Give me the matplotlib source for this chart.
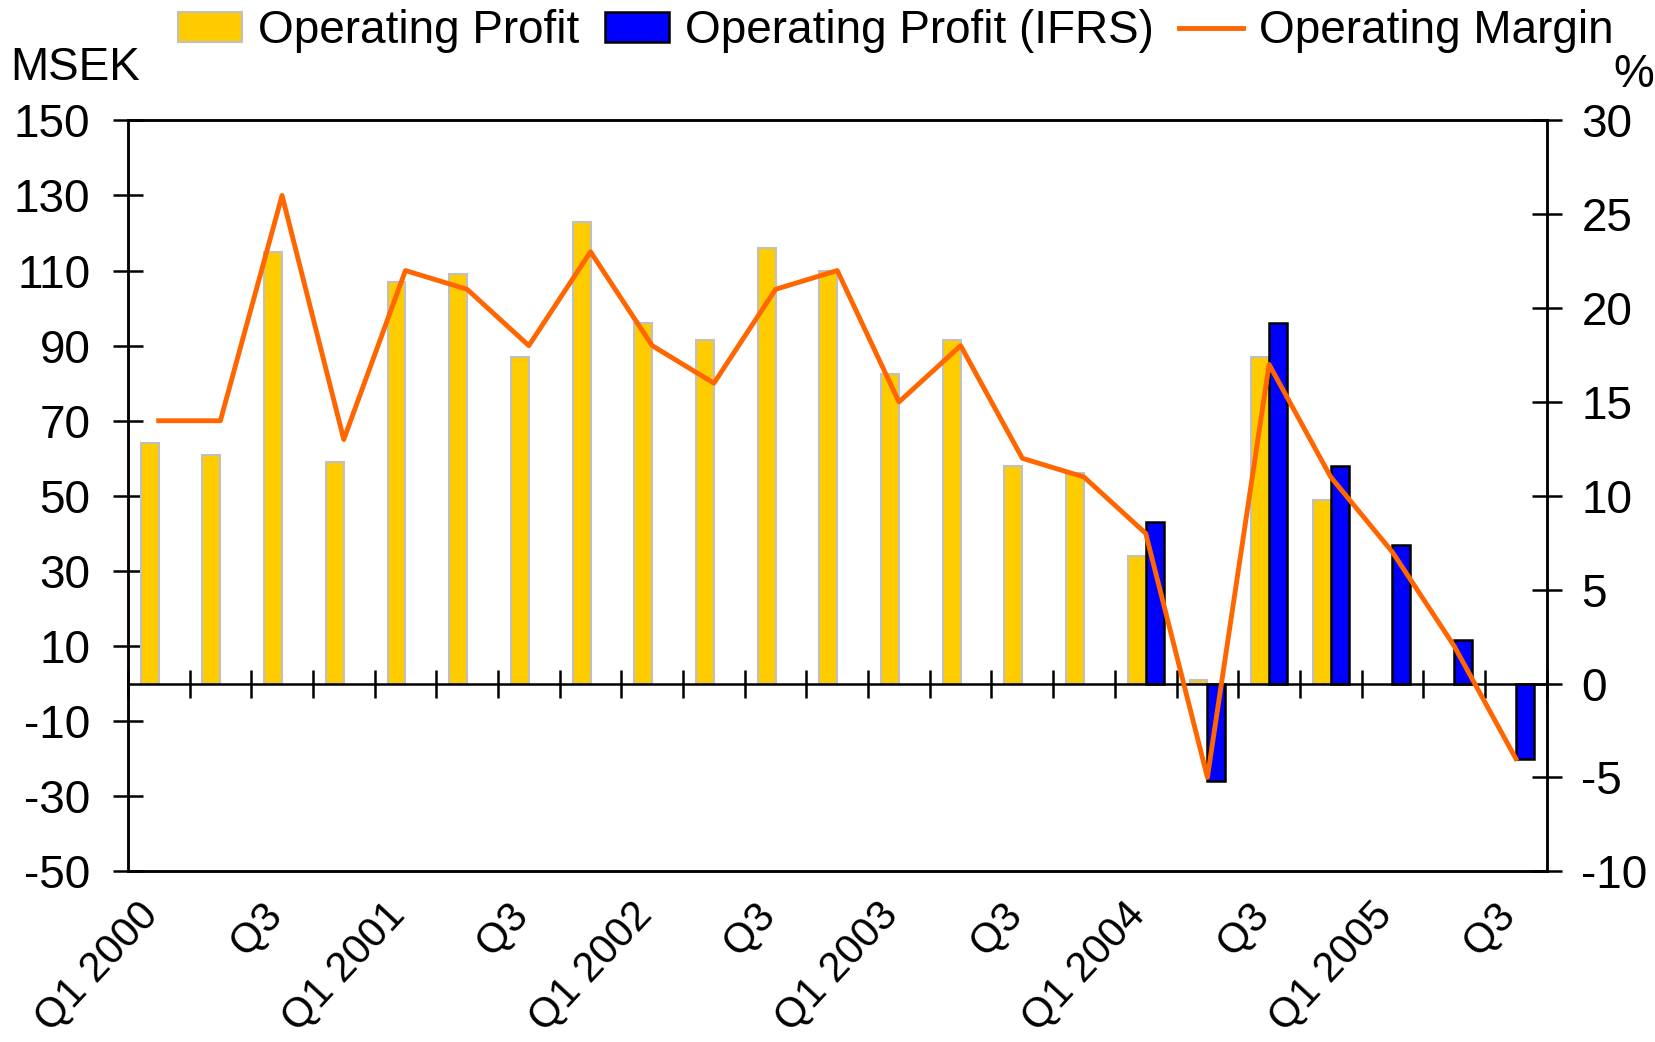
import numpy as np
import matplotlib
matplotlib.use("Agg")
import matplotlib.pyplot as plt
import matplotlib.transforms as mtransforms

plt.rcParams['font.family'] = ['Liberation Sans', 'DejaVu Sans']
plt.rcParams['axes.unicode_minus'] = False

quarters = ['Q1 2000', 'Q2', 'Q3', 'Q4', 'Q1 2001', 'Q2', 'Q3', 'Q4',
            'Q1 2002', 'Q2', 'Q3', 'Q4', 'Q1 2003', 'Q2', 'Q3', 'Q4',
            'Q1 2004', 'Q2', 'Q3', 'Q4', 'Q1 2005', 'Q2', 'Q3']
profit = [64, 61, 115, 59, 107, 109, 87, 123, 96, 91.5, 116, 110,
          82.5, 91.5, 58, 56, 34, 1, 87, 49, np.nan, np.nan, np.nan]
profit_ifrs = [np.nan] * 16 + [43, -26, 96, 58, 37, 11.5, -20]
margin = [14, 14, 26, 13, 22, 21, 18, 23, 18, 16, 21, 22,
          15, 18, 12, 11, 8, -5, 17, 11, 7, 2, -4]

left_ticks = [-50, -30, -10, 10, 30, 50, 70, 90, 110, 130, 150]
right_ticks = [-10, -5, 0, 5, 10, 15, 20, 25, 30]

fig = plt.figure(figsize=(16.56, 10.42), dpi=100)
ax = fig.add_axes([0.0772, 0.1638, 0.8568, 0.7207])
x = np.arange(len(quarters))
w = 0.29

b1 = ax.bar(x - w / 2, profit, width=w, color='#FFCC00', edgecolor='#C0C0C0',
            linewidth=1.5, label='Operating Profit', zorder=2)
b2 = ax.bar(x + w / 2, profit_ifrs, width=w, color='#0000FF', edgecolor='black',
            linewidth=1.8, label='Operating Profit (IFRS)', zorder=2)

ax.set_xlim(-0.5, len(quarters) - 0.5)
ax.set_ylim(-50, 150)
ax.set_yticks(left_ticks)
ax.tick_params(axis='y', labelsize=33, direction='inout', length=22, width=1.8, pad=16)

# zero line with category dividers
ax.axhline(0, color='black', linewidth=1.8, zorder=3)
ax.plot(np.arange(len(quarters) + 1) - 0.5, np.zeros(len(quarters) + 1),
        linestyle='none', marker='|', markersize=20, markeredgewidth=1.8,
        color='black', zorder=3, clip_on=False)

ax.set_xticks(x[::2])
ax.set_xticklabels(quarters[::2], rotation=47, ha='right', va='top',
                   rotation_mode='anchor', fontsize=30)
ax.tick_params(axis='x', length=0, pad=20)
shift = mtransforms.ScaledTranslation(-22 / 100, 4 / 100, fig.dpi_scale_trans)
for lab in ax.get_xticklabels():
    lab.set_transform(lab.get_transform() + shift)

for s in ax.spines.values():
    s.set_linewidth(1.8)

ax2 = ax.twinx()
ln, = ax2.plot(x, margin, color='#FF6600', linewidth=3.5, label='Operating Margin', zorder=4)
ax2.set_ylim(-10, 30)
ax2.set_yticks(right_ticks)
ax2.tick_params(axis='y', labelsize=33, direction='inout', length=22, width=1.8, pad=14)
for s in ax2.spines.values():
    s.set_linewidth(1.8)

fig.text(0.006, 0.935, 'MSEK', fontsize=33, va='center', ha='left')
fig.text(0.999, 0.928, '%', fontsize=33, va='center', ha='right')

fig.legend([b1, b2, ln], ['Operating Profit', 'Operating Profit (IFRS)', 'Operating Margin'],
           loc='center', bbox_to_anchor=(0.541, 0.97), ncol=3, frameon=False,
           fontsize=33, handlelength=1.4, handleheight=0.65, handletextpad=0.35,
           columnspacing=0.55, borderaxespad=0)

fig.savefig('out.png', dpi=100)
